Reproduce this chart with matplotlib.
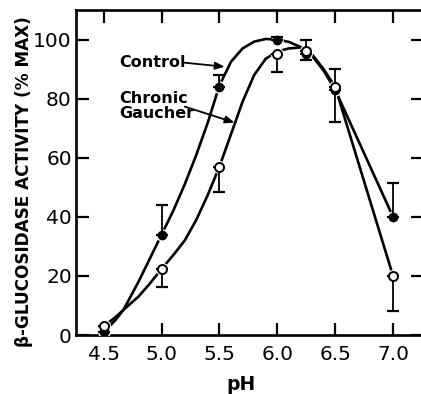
import numpy as np
import matplotlib.pyplot as plt

# measured points (pH, % of max activity)
ph = [4.5, 5.0, 5.5, 6.0, 6.25, 6.5, 7.0]
control = [1, 34, 84, 100, 95, 83, 40]
control_err_up = [0, 10, 4, 1, 5, 7, 11.5]
gaucher = [3, 22.4, 57, 95, 96, 84, 20]
gaucher_err_down = [0, 6, 8.5, 6, 3, 12, 12]

# hand-drawn curves
control_curve_ph = [4.5, 4.6, 4.67, 4.8, 4.9, 5.0, 5.1, 5.2, 5.3, 5.4, 5.5,
                    5.6, 5.7, 5.8, 5.9, 6.0, 6.1, 6.2, 6.3, 6.4, 6.5, 7.0]
control_curve = [1, 5, 8.5, 18, 26, 34, 42, 51, 61, 72, 84.5,
                 92.5, 97, 99.3, 100.2, 100, 99.2, 97.5, 94.5, 89.5, 83, 40]
gaucher_curve_ph = [4.5, 4.6, 4.67, 4.8, 4.9, 5.0, 5.1, 5.2, 5.3, 5.4, 5.5,
                    5.6, 5.7, 5.8, 5.9, 6.0, 6.1, 6.2, 6.3, 6.4, 6.5, 7.0]
gaucher_curve = [3, 6, 8.5, 13, 17.5, 22.4, 27, 32, 39, 47.5, 57,
                 68, 79, 88, 93.5, 96, 97, 97.3, 95, 90, 84, 20]

xticks = [4.5, 5.0, 5.5, 6.0, 6.5, 7.0]
yticks = [0, 20, 40, 60, 80, 100]

fig = plt.figure(figsize=(4.21, 3.94), dpi=100)
ax = fig.add_axes([0.1805, 0.1497, 0.8245, 0.8249])

lw = 1.9
ax.plot(control_curve_ph, control_curve, color='black', lw=lw, zorder=2,
        solid_capstyle='round', solid_joinstyle='round')
ax.plot(gaucher_curve_ph, gaucher_curve, color='black', lw=lw, zorder=2,
        solid_capstyle='round', solid_joinstyle='round')

# white halos give the little gaps around the symbols
ax.plot(ph, control, 'o', ms=9, color='white', mec='none', zorder=3)
ax.plot(ph, gaucher, 'o', ms=9.5, color='white', mec='none', zorder=3)

ax.errorbar(ph, control, yerr=[np.zeros(len(ph)), control_err_up], fmt='none',
            ecolor='black', elinewidth=1.3, capsize=4.3, capthick=1.6, zorder=4)
ax.errorbar(ph, gaucher, yerr=[gaucher_err_down, np.zeros(len(ph))], fmt='none',
            ecolor='black', elinewidth=1.3, capsize=4.3, capthick=1.6, zorder=4)

ax.plot(ph, control, 'o', ms=6, color='black', zorder=5)
ax.plot(ph, gaucher, 'o', ms=6.5, mfc='white', mec='black', mew=1.4, zorder=6)

ax.set_xlim(4.26, 7.26)
ax.set_ylim(0, 110)
ax.set_xticks(xticks)
ax.set_xticklabels(['4.5', '5.0', '5.5', '6.0', '6.5', '7.0'])
ax.set_yticks(yticks)
ax.tick_params(direction='in', length=9, width=1.6, top=True, right=True,
               labelsize=14.5)
ax.tick_params(axis='x', pad=7)
ax.tick_params(axis='y', pad=3)
for s in ax.spines.values():
    s.set_linewidth(1.9)

arrow = dict(arrowstyle='-|>,head_length=0.55,head_width=0.22', color='black',
             lw=1.3, shrinkA=0, shrinkB=0)
ax.annotate('', xy=(5.545, 90.8), xytext=(5.19, 92.2), arrowprops=arrow)
ax.text(4.63, 92.2, 'Control', fontsize=11.5, fontweight='bold',
        ha='left', va='center')
ax.annotate('', xy=(5.63, 71.9), xytext=(5.2, 77.3), arrowprops=arrow)
ax.text(4.63, 77.5, 'Chronic\nGaucher', fontsize=11.5, fontweight='bold',
        ha='left', va='center', linespacing=0.95)

fig.text(0.057, 0.54, '\u03b2-GLUCOSIDASE ACTIVITY (% MAX)', rotation=90,
         fontsize=12.2, fontweight='bold', ha='center', va='center')
fig.text(0.572, 0.023, 'pH', fontsize=13.5, fontweight='bold',
         ha='center', va='center')

fig.savefig('out.png', dpi=100)
